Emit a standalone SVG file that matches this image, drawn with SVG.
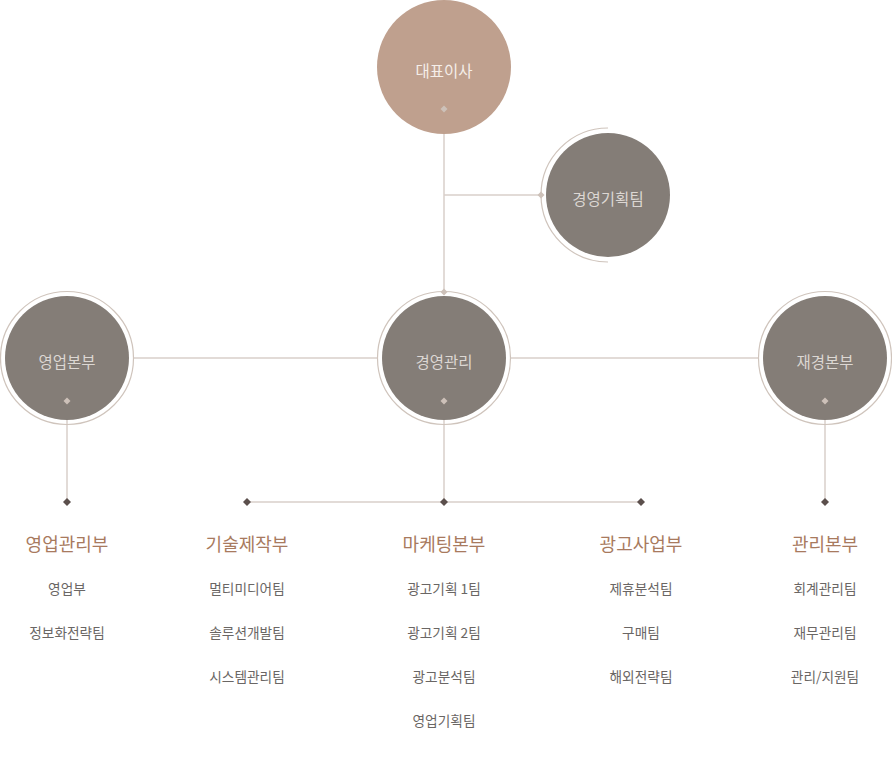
<svg xmlns="http://www.w3.org/2000/svg" width="892" height="759" viewBox="0 0 892 759">
<defs>
<style>
.fill{fill:#847d77}
.ring{fill:none;stroke:#cfc4bc;stroke-width:1.2}
.ln{stroke:#d8cfca;stroke-width:1.5;fill:none}
.dl{fill:#cdc1b9}
.dd{fill:#5b4f4c}
.cl{font-family:"Noto Sans CJK KR","Noto Sans",sans-serif;font-size:15.5px;fill:#dcd7d3;text-anchor:middle}
.ceo{fill:#f5eee9}
.hd{font-family:"Noto Sans CJK KR","Noto Sans",sans-serif;font-size:18px;fill:#a87a5e;text-anchor:middle}
.it{font-family:"Noto Sans CJK KR","Noto Sans",sans-serif;font-size:13.7px;fill:#6a6664;text-anchor:middle}
</style>
<path id="dm" d="M0,-4 L4,0 L0,4 L-4,0 Z"/>
<path id="dms" d="M0,-3.5 L3.5,0 L0,3.5 L-3.5,0 Z"/>
</defs>
<rect width="892" height="759" fill="#ffffff"/>
<g id="connectors">
<line class="ln" x1="444" y1="109" x2="444" y2="292"/>
<line class="ln" x1="444" y1="195" x2="541" y2="195"/>
<line class="ln" x1="134" y1="358" x2="377" y2="358"/>
<line class="ln" x1="511" y1="358" x2="758" y2="358"/>
<line class="ln" x1="444" y1="401" x2="444" y2="502"/>
<line class="ln" x1="67" y1="401" x2="67" y2="502"/>
<line class="ln" x1="825" y1="401" x2="825" y2="502"/>
<line class="ln" x1="247" y1="502" x2="641" y2="502"/>
<use href="#dm" class="dd" x="67" y="502"/>
<use href="#dm" class="dd" x="247" y="502"/>
<use href="#dm" class="dd" x="444" y="502"/>
<use href="#dm" class="dd" x="641" y="502"/>
<use href="#dm" class="dd" x="825" y="502"/>
</g>
<g id="ceo">
<circle cx="444" cy="67" r="67" fill="#bfa08e"/>
<text class="cl ceo" x="444" y="76.5">대표이사</text>
<use href="#dms" class="dl" x="444" y="109"/>
</g>
<g id="planning">
<path class="ring" d="M608,128 A67,67 0 0 0 608,262"/>
<circle class="fill" cx="608" cy="195" r="62"/>
<text class="cl" x="608" y="204.5">경영기획팀</text>
<use href="#dms" class="dl" x="541" y="195"/>
</g>
<g id="management">
<circle class="ring" cx="444" cy="358" r="66.5"/>
<circle class="fill" cx="444" cy="358" r="62"/>
<text class="cl" x="444" y="367.5">경영관리</text>
<use href="#dms" class="dl" x="444" y="292"/>
<use href="#dms" class="dl" x="444" y="401"/>
</g>
<g id="sales">
<circle class="ring" cx="67" cy="358" r="66.5"/>
<circle class="fill" cx="67" cy="358" r="62"/>
<text class="cl" x="67" y="367.5">영업본부</text>
<use href="#dms" class="dl" x="67" y="401"/>
</g>
<g id="finance">
<circle class="ring" cx="825" cy="358" r="66.5"/>
<circle class="fill" cx="825" cy="358" r="62"/>
<text class="cl" x="825" y="367.5">재경본부</text>
<use href="#dms" class="dl" x="825" y="401"/>
</g>
<g id="col-sales">
<text class="hd" x="67" y="550.5">영업관리부</text>
<text class="it" x="67" y="594">영업부</text>
<text class="it" x="67" y="638">정보화전략팀</text>
</g>
<g id="col-tech">
<text class="hd" x="247" y="550.5">기술제작부</text>
<text class="it" x="247" y="594">멀티미디어팀</text>
<text class="it" x="247" y="638">솔루션개발팀</text>
<text class="it" x="247" y="682">시스템관리팀</text>
</g>
<g id="col-marketing">
<text class="hd" x="444" y="550.5">마케팅본부</text>
<text class="it" x="444" y="594">광고기획 1팀</text>
<text class="it" x="444" y="638">광고기획 2팀</text>
<text class="it" x="444" y="682">광고분석팀</text>
<text class="it" x="444" y="726">영업기획팀</text>
</g>
<g id="col-ad">
<text class="hd" x="641" y="550.5">광고사업부</text>
<text class="it" x="641" y="594">제휴분석팀</text>
<text class="it" x="641" y="638">구매팀</text>
<text class="it" x="641" y="682">해외전략팀</text>
</g>
<g id="col-admin">
<text class="hd" x="825" y="550.5">관리본부</text>
<text class="it" x="825" y="594">회계관리팀</text>
<text class="it" x="825" y="638">재무관리팀</text>
<text class="it" x="825" y="682">관리/지원팀</text>
</g>
</svg>
